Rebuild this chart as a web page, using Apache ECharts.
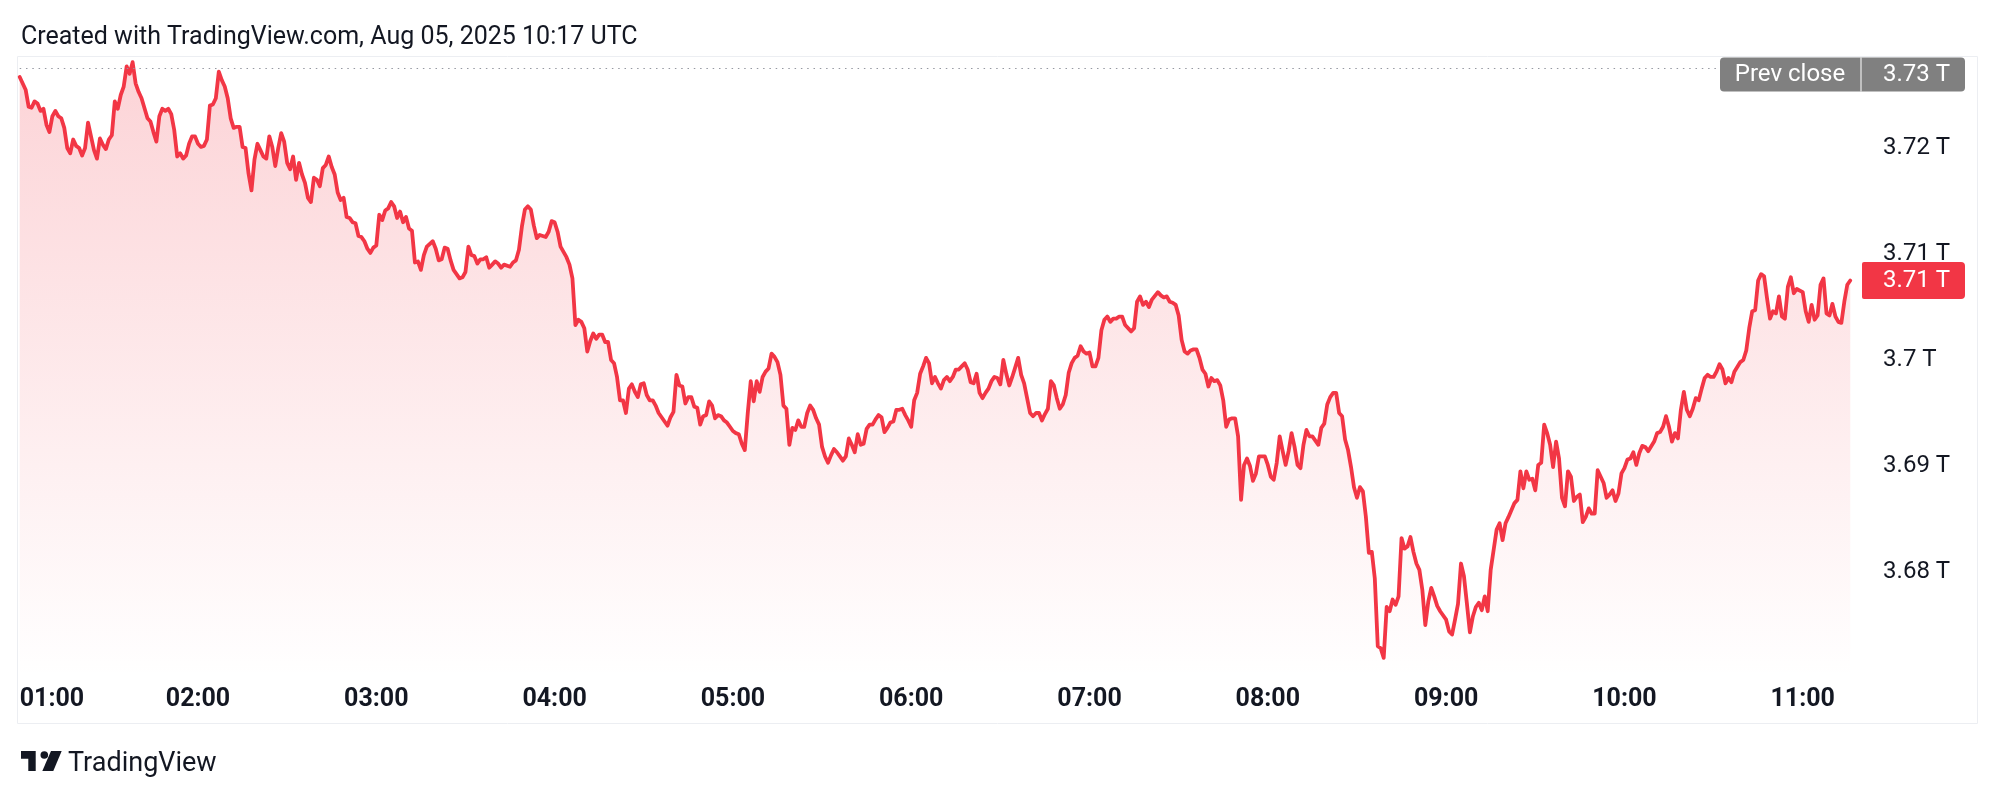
<!DOCTYPE html>
<html>
<head>
<meta charset="utf-8">
<script src="https://cdn.jsdelivr.net/npm/echarts@6/dist/echarts.min.js"></script>
<style>
html,body{margin:0;padding:0;background:#ffffff;}
#chart{width:1999px;height:799px;}
</style>
</head>
<body>
<div id="chart"></div>
<script>
const titleText = "Created with TradingView.com, Aug 05, 2025 10:17 UTC";
const brandText = "TradingView";
const prevCloseLabel = "Prev close";
const prevClose = 3.72755;
const unit = "T";

const times = [
"01:00","01:02","01:03","01:04","01:05","01:06","01:07","01:08","01:09","01:10","01:11","01:12","01:13","01:14","01:15","01:16","01:17","01:18","01:19","01:20","01:21","01:22","01:23","01:24","01:25","01:26","01:27","01:28","01:29","01:30","01:31","01:32","01:33","01:34","01:35","01:36","01:37","01:38","01:39","01:40","01:41",
"01:43","01:44","01:45","01:46","01:47","01:48","01:49","01:50","01:51","01:52","01:53","01:54","01:55","01:56","01:57","01:58","01:59",
"02:00","02:01","02:02","02:03","02:04","02:05","02:06","02:07","02:08","02:09","02:10","02:11","02:12","02:13","02:14","02:15","02:16","02:17","02:18","02:19","02:20","02:21","02:22","02:23","02:24","02:25","02:26","02:27","02:28","02:29",
"02:30","02:31","02:32","02:33","02:34","02:35","02:36","02:37","02:38","02:39","02:40","02:41","02:42","02:43","02:44","02:45","02:46","02:47","02:48","02:49","02:50","02:51","02:52","02:53","02:54","02:55","02:56","02:57","02:58","02:59",
"03:00","03:01","03:02","03:03","03:04","03:05","03:06","03:07","03:08","03:09","03:10","03:11","03:12","03:13","03:14","03:15","03:16","03:17",
"03:19","03:20","03:21","03:22","03:23","03:24","03:25","03:26",
"03:28","03:29","03:30","03:31","03:32","03:33","03:34","03:35","03:36","03:37","03:38","03:39","03:40","03:41","03:42","03:43",
"03:45","03:46","03:47","03:48","03:49","03:50","03:51","03:52","03:53","03:54","03:55","03:56","03:57","03:58","03:59",
"04:00","04:01","04:02","04:03","04:04","04:05","04:06","04:07","04:08","04:09","04:10","04:11","04:12","04:13","04:14","04:15","04:16","04:17","04:18","04:19","04:20","04:21","04:22","04:23","04:24","04:25","04:26","04:27","04:28","04:29","04:30","04:31","04:32","04:33","04:34","04:35","04:36",
"04:38","04:39","04:40","04:41","04:42","04:43","04:44","04:45","04:46","04:47","04:48","04:49","04:50","04:51","04:52","04:53","04:54","04:55","04:56","04:57","04:58","04:59",
"05:00","05:01","05:02","05:03","05:04","05:05","05:06","05:07","05:08","05:09","05:10","05:11","05:12","05:13","05:14","05:15","05:16","05:17","05:18","05:19","05:20","05:21","05:22","05:23","05:24","05:25","05:26","05:27","05:28","05:29",
"05:30","05:31","05:32","05:33","05:34","05:35","05:36","05:37","05:38","05:39","05:40","05:41","05:42","05:43","05:44","05:45","05:46","05:47","05:48","05:49","05:50","05:51","05:52","05:53","05:54","05:55","05:56","05:57","05:58","05:59",
"06:00","06:01","06:02","06:03","06:04","06:05","06:06","06:07","06:08","06:09","06:10","06:11","06:12","06:13","06:14","06:15","06:16","06:17","06:18","06:19","06:20","06:21","06:22","06:23","06:24","06:25","06:26","06:27","06:28","06:29","06:30","06:31","06:32","06:33","06:34",
"06:36","06:37","06:38","06:39","06:40","06:41","06:42","06:43","06:44","06:45","06:46","06:47","06:48","06:49","06:50","06:51","06:52","06:53","06:54","06:55","06:56","06:57","06:58","06:59",
"07:00","07:01","07:02","07:03","07:04","07:05","07:06","07:07","07:08","07:09","07:10","07:11","07:12",
"07:14","07:15","07:16","07:17","07:18","07:19","07:20","07:21",
"07:23","07:24","07:25","07:26","07:27","07:28","07:29","07:30","07:31","07:32","07:33","07:34","07:35","07:36","07:37","07:38","07:39","07:40","07:41","07:42","07:43","07:44","07:45","07:46","07:47","07:48","07:49","07:50","07:51","07:52","07:53","07:54","07:55","07:56","07:57","07:58","07:59",
"08:00","08:01","08:02","08:03","08:04","08:05","08:06","08:07","08:08","08:09","08:10","08:11","08:12","08:13","08:14","08:15",
"08:17","08:18","08:19","08:20","08:21","08:22","08:23","08:24","08:25","08:26","08:27","08:28","08:29","08:30","08:31","08:32","08:33","08:34","08:35","08:36","08:37","08:38","08:39","08:40","08:41","08:42","08:43","08:44","08:45","08:46","08:47","08:48","08:49","08:50","08:51","08:52","08:53","08:54","08:55","08:56","08:57","08:58",
"09:00","09:01","09:02","09:03","09:04","09:05","09:06","09:07","09:08","09:09","09:10","09:11","09:12","09:13","09:14","09:15","09:16","09:17","09:18","09:19","09:20","09:21",
"09:23","09:24","09:25","09:26","09:27","09:28","09:29","09:30","09:31","09:32","09:33","09:34","09:35","09:36","09:37","09:38","09:39","09:40","09:41","09:42","09:43","09:44","09:45","09:46","09:47","09:48","09:49","09:50","09:51",
"09:53","09:54","09:55","09:56","09:57","09:58","09:59",
"10:00","10:01","10:02","10:03","10:04","10:05","10:06","10:07","10:08",
"10:10","10:11","10:12","10:13","10:14","10:15","10:16","10:17","10:18","10:19","10:20","10:21","10:22","10:23","10:24","10:25","10:26","10:27","10:28","10:29","10:30","10:31","10:32","10:33","10:34","10:35","10:36","10:37",
"10:39","10:40","10:41","10:42","10:43","10:44","10:45","10:46","10:47","10:48","10:49","10:50","10:51","10:52","10:53","10:54","10:55","10:56","10:57","10:58",
"11:00","11:01","11:02","11:03","11:04","11:05","11:06","11:07","11:08","11:09","11:10","11:11","11:12","11:13","11:14","11:15","11:16"
];

const values = [
3.7267,3.7255,3.7239,3.7238,3.7244,3.7242,3.7235,3.7237,3.7222,3.7215,3.7230,3.7235,3.7230,3.7228,3.7219,3.7200,3.7195,3.7208,3.7202,3.7200,3.7193,3.7200,3.7224,3.7211,3.7198,3.7190,3.7209,3.7203,3.7199,3.7208,3.7212,3.7244,3.7237,3.7250,3.7258,3.7277,3.7270,3.7281,3.7261,3.7253,3.7247,
3.7228,3.7225,3.7215,3.7206,3.7230,3.7237,3.7235,3.7237,3.7232,3.7217,3.7192,3.7195,3.7190,3.7193,3.7204,3.7211,3.7211,
3.7204,3.7201,3.7202,3.7208,3.7240,3.7241,3.7247,3.7272,3.7264,3.7258,3.7247,3.7228,3.7219,3.7220,3.7220,3.7201,3.7200,3.7176,3.7160,3.7189,3.7204,3.7198,3.7192,3.7190,3.7211,3.7201,3.7183,3.7200,3.7214,3.7206,
3.7186,3.7180,3.7192,3.7170,3.7186,3.7175,3.7167,3.7153,3.7149,3.7172,3.7170,3.7164,3.7181,3.7184,3.7192,3.7182,3.7175,3.7158,3.7151,3.7153,3.7135,3.7134,3.7130,3.7129,3.7117,3.7116,3.7112,3.7105,3.7101,3.7106,
3.7108,3.7137,3.7132,3.7141,3.7143,3.7149,3.7145,3.7134,3.7140,3.7130,3.7135,3.7124,3.7122,3.7092,3.7093,3.7085,3.7099,3.7107,
3.7112,3.7105,3.7094,3.7095,3.7106,3.7105,3.7094,3.7085,
3.7077,3.7078,3.7083,3.7107,3.7099,3.7098,3.7091,3.7095,3.7095,3.7097,3.7087,3.7090,3.7093,3.7091,3.7087,3.7090,
3.7088,3.7092,3.7094,3.7104,3.7126,3.7142,3.7145,3.7142,3.7127,3.7115,3.7118,3.7117,3.7116,3.7121,3.7131,
3.7130,3.7121,3.7107,3.7102,3.7097,3.7090,3.7077,3.7033,3.7038,3.7036,3.7030,3.7008,3.7018,3.7025,3.7020,3.7024,3.7024,3.7017,3.7017,3.7000,3.6997,3.6984,3.6962,3.6962,3.6950,3.6973,3.6977,3.6970,3.6965,3.6977,3.6978,3.6967,3.6962,3.6962,3.6957,3.6950,3.6946,
3.6938,3.6946,3.6951,3.6986,3.6976,3.6975,3.6959,3.6965,3.6965,3.6956,3.6955,3.6939,3.6947,3.6948,3.6961,3.6957,3.6945,3.6948,3.6947,3.6943,3.6941,3.6937,
3.6933,3.6931,3.6930,3.6921,3.6915,3.6950,3.6980,3.6961,3.6980,3.6970,3.6984,3.6989,3.6992,3.7006,3.7003,3.6998,3.6986,3.6957,3.6954,3.6920,3.6936,3.6934,3.6943,3.6937,3.6937,3.6950,3.6957,3.6953,3.6945,3.6939,
3.6918,3.6909,3.6903,3.6910,3.6916,3.6913,3.6909,3.6905,3.6909,3.6926,3.6920,3.6913,3.6930,3.6920,3.6921,3.6935,3.6939,3.6939,3.6944,3.6948,3.6946,3.6932,3.6936,3.6941,3.6942,3.6953,3.6953,3.6954,3.6948,3.6943,
3.6937,3.6962,3.6969,3.6987,3.6994,3.7002,3.6997,3.6978,3.6984,3.6978,3.6973,3.6981,3.6984,3.6980,3.6984,3.6991,3.6991,3.6994,3.6997,3.6991,3.6979,3.6978,3.6987,3.6969,3.6964,3.6969,3.6973,3.6980,3.6984,3.6983,3.6977,3.7000,3.6987,3.6976,3.6984,
3.7002,3.6986,3.6978,3.6964,3.6950,3.6947,3.6950,3.6950,3.6943,3.6949,3.6954,3.6980,3.6976,3.6964,3.6954,3.6958,3.6967,3.6988,3.6997,3.7002,3.7004,3.7013,3.7008,3.7006,
3.7007,3.6994,3.6994,3.7002,3.7028,3.7038,3.7041,3.7036,3.7039,3.7039,3.7041,3.7041,3.7033,
3.7027,3.7030,3.7055,3.7060,3.7052,3.7055,3.7050,3.7057,
3.7064,3.7061,3.7059,3.7060,3.7055,3.7054,3.7052,3.7042,3.7019,3.7008,3.7006,3.7009,3.7010,3.7010,3.7002,3.6991,3.6987,3.6975,3.6983,3.6980,3.6981,3.6976,3.6962,3.6937,3.6944,3.6945,3.6945,3.6928,3.6868,3.6901,3.6907,3.6900,3.6886,3.6893,3.6909,3.6909,3.6909,
3.6901,3.6890,3.6887,3.6903,3.6928,3.6914,3.6901,3.6914,3.6931,3.6918,3.6901,3.6898,3.6920,3.6934,3.6928,3.6928,
3.6920,3.6936,3.6940,3.6958,3.6965,3.6969,3.6969,3.6950,3.6947,3.6925,3.6915,3.6899,3.6880,3.6870,3.6880,3.6876,3.6852,3.6818,3.6819,3.6794,3.6730,3.6728,3.6719,3.6767,3.6763,3.6774,3.6769,3.6777,3.6832,3.6822,3.6824,3.6833,3.6819,3.6808,3.6802,3.6783,3.6750,3.6772,3.6785,3.6777,3.6768,3.6763,
3.6755,3.6744,3.6741,3.6755,3.6770,3.6808,3.6796,3.6770,3.6743,3.6758,3.6767,3.6771,3.6764,3.6777,3.6763,3.6802,3.6821,3.6840,3.6846,3.6830,3.6846,3.6852,
3.6865,3.6868,3.6895,3.6879,3.6895,3.6887,3.6888,3.6877,3.6901,3.6903,3.6939,3.6931,3.6920,3.6899,3.6923,3.6907,3.6870,3.6862,3.6895,3.6890,3.6867,3.6871,3.6873,3.6847,3.6852,3.6860,3.6855,3.6855,3.6896,
3.6884,3.6870,3.6873,3.6877,3.6867,3.6874,3.6893,
3.6898,3.6906,3.6907,3.6913,3.6901,3.6912,3.6919,3.6918,3.6914,
3.6923,3.6931,3.6932,3.6937,3.6947,3.6937,3.6923,3.6931,3.6926,3.6953,3.6970,3.6953,3.6947,3.6954,3.6964,3.6962,3.6973,3.6983,3.6986,3.6984,3.6984,3.6989,3.6996,3.6991,3.6978,3.6983,3.6979,3.6989,
3.6998,3.7000,3.7009,3.7030,3.7046,3.7047,3.7075,3.7081,3.7079,3.7058,3.7039,3.7046,3.7044,3.7060,3.7041,3.7039,3.7069,3.7078,3.7063,3.7067,
3.7064,3.7046,3.7036,3.7052,3.7038,3.7042,3.7071,3.7077,3.7044,3.7042,3.7053,3.7041,3.7036,3.7035,3.7055,3.7071,3.7075
];

const hourTickStart = "01:00";
const hourTickEnd = "11:22";

if (times.length !== values.length) {
  throw new Error("length mismatch: times " + times.length + " values " + values.length);
}

function toMinutes(t) {
  const p = t.split(":");
  return parseInt(p[0], 10) * 60 + parseInt(p[1], 10);
}
function pad2(n) { return (n < 10 ? "0" : "") + n; }
function fmtTime(v) {
  return pad2(Math.floor(v / 60)) + ":" + pad2(Math.round(v % 60));
}
function fmtPrice(v) {
  return (+v.toFixed(2)) + " " + unit;
}

const FONT = "Roboto, 'Noto Sans', sans-serif";
const TEXT = "#131722";
const RED = "#f23645";

const chart = echarts.init(document.getElementById("chart"), null, { renderer: "canvas" });

const seriesData = times.map(function (t, i) { return [toMinutes(t), values[i]]; });

const option = {
  animation: false,
  backgroundColor: "#ffffff",
  title: {
    text: titleText,
    left: 21,
    top: 25,
    padding: 0,
    textStyle: { fontFamily: FONT, fontSize: 25, fontWeight: "normal", color: TEXT, lineHeight: 25 }
  },
  grid: { left: 19.7, right: 130.9, top: 42, bottom: 121, outerBoundsMode: "none" },
  xAxis: {
    type: "value",
    min: toMinutes(hourTickStart),
    max: toMinutes(hourTickEnd),
    interval: 60,
    axisLine: { show: false },
    axisTick: { show: false },
    splitLine: { show: false },
    axisLabel: {
      margin: 9,
      fontFamily: FONT,
      fontSize: 25,
      lineHeight: 25,
      fontWeight: "bold",
      color: TEXT,
      alignMinLabel: "left",
      formatter: function (v) { return (v % 60 === 0) ? fmtTime(v) : ""; }
    }
  },
  yAxis: {
    type: "value",
    position: "right",
    min: 3.67,
    max: 3.73,
    interval: 0.01,
    axisLine: { show: false },
    axisTick: { show: false },
    splitLine: { show: false },
    axisLabel: {
      margin: 15,
      fontFamily: FONT,
      fontSize: 24,
      color: TEXT,
      showMinLabel: false,
      showMaxLabel: false,
      formatter: function (v) { return fmtPrice(v); }
    }
  },
  series: [{
    type: "line",
    data: seriesData,
    showSymbol: false,
    symbol: "none",
    smooth: false,
    lineStyle: { color: RED, width: 3.8, join: "round", cap: "round" },
    areaStyle: {
      color: new echarts.graphic.LinearGradient(0, 0, 0, 1, [
        { offset: 0, color: "rgba(242,54,69,0.31)" },
        { offset: 1, color: "rgba(242,54,69,0.0)" }
      ])
    },
    markLine: {
      silent: true,
      symbol: "none",
      precision: 6,
      label: { show: false },
      lineStyle: { color: "#9598a1", width: 1, type: [1.5, 4.8] },
      data: [{ yAxis: prevClose }]
    },
    z: 3
  }]
};

chart.setOption(option);

const yPrev = chart.convertToPixel({ yAxisIndex: 0 }, prevClose);
const lastVal = values[values.length - 1];
const yLast = chart.convertToPixel({ yAxisIndex: 0 }, lastVal);

const paneTop = 57.5;
const prevBoxH = 34;
const prevBoxTop = Math.max(yPrev - prevBoxH / 2, paneTop);
const lastBoxH = 37;

chart.setOption({
  graphic: [
    {
      type: "rect", z: 0, silent: true,
      shape: { x: 17.5, y: 56.5, width: 1960, height: 667 },
      style: { fill: "none", stroke: "#eceef2", lineWidth: 1 }
    },
    {
      type: "rect", z: 10, silent: true,
      shape: { x: 1720, y: prevBoxTop, width: 245, height: prevBoxH, r: 4 },
      style: { fill: "#808080" }
    },
    {
      type: "rect", z: 11, silent: true,
      shape: { x: 1860.5, y: prevBoxTop, width: 1, height: prevBoxH },
      style: { fill: "#ffffff" }
    },
    {
      type: "text", z: 12, silent: true,
      x: 1790, y: prevBoxTop + prevBoxH / 2,
      style: { text: prevCloseLabel, fill: "#ffffff", font: "24px " + FONT, align: "center", verticalAlign: "middle" }
    },
    {
      type: "text", z: 12, silent: true,
      x: 1883, y: prevBoxTop + prevBoxH / 2,
      style: { text: fmtPrice(prevClose), fill: "#ffffff", font: "24px " + FONT, align: "left", verticalAlign: "middle" }
    },
    {
      type: "rect", z: 10, silent: true,
      shape: { x: 1862, y: yLast - lastBoxH / 2, width: 103, height: lastBoxH, r: [2, 4, 4, 2] },
      style: { fill: RED }
    },
    {
      type: "text", z: 12, silent: true,
      x: 1883, y: yLast,
      style: { text: fmtPrice(lastVal), fill: "#ffffff", font: "24px " + FONT, align: "left", verticalAlign: "middle" }
    },
    {
      type: "group", z: 10, silent: true,
      children: [
        { type: "polygon", shape: { points: [[21, 751], [35.7, 751], [35.7, 771], [28.3, 771], [28.3, 758.7], [21, 758.7]] }, style: { fill: TEXT } },
        { type: "circle", shape: { cx: 44.3, cy: 755, r: 3.8 }, style: { fill: TEXT } },
        { type: "polygon", shape: { points: [[51, 751], [61.7, 751], [53.3, 771], [42.3, 771]] }, style: { fill: TEXT } },
        { type: "text", x: 68, y: 764, style: { text: brandText, fill: TEXT, font: "27px " + FONT, align: "left", verticalAlign: "middle" } }
      ]
    }
  ]
});
</script>
</body>
</html>
